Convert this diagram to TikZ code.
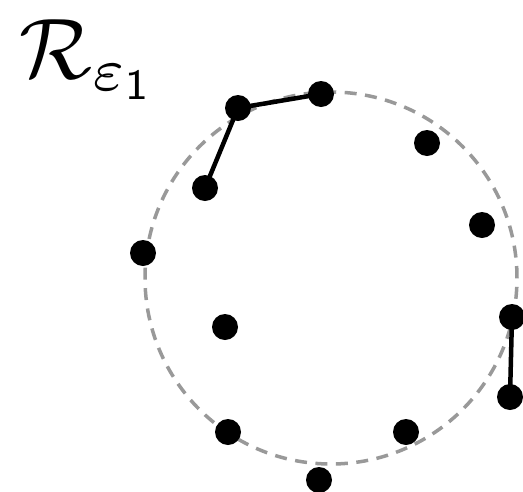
\documentclass[tikz,border=0pt]{standalone}
\begin{document}
\begin{tikzpicture}[x=1pt,y=-1pt,
  dot/.style={circle,fill=black,inner sep=0pt,minimum size=26pt},
  link/.style={draw=black,line width=4.5pt},
  ring/.style={draw=gray!80,line width=3.5pt,dash pattern=on 12pt off 8.5pt}]
\useasboundingbox[fill=white] (0,0) rectangle (523,491);
\node[ring,circle,minimum size=372pt,inner sep=0pt] (c) at (331,278) {};
\node[dot] (a) at (238,108) {};
\node[dot] (b) at (321,94) {};
\node[dot] (d) at (205,188) {};
\node[dot] (e) at (427,143) {};
\node[dot] (f) at (482,225) {};
\node[dot] (g) at (143,253) {};
\node[dot] (h) at (225,327) {};
\node[dot] (i) at (512,317) {};
\node[dot] (j) at (510,397) {};
\node[dot] (k) at (228,432) {};
\node[dot] (l) at (406,432) {};
\node[dot] (m) at (319,480) {};
\draw[link] (a.center) -- (b.center);
\draw[link] (a.center) -- (d.center);
\draw[link] (i.center) -- (j.center);
\node[anchor=base west,inner sep=0pt,scale=8.6] (lbl) at (18,78) {$\mathcal{R}_{\varepsilon_{\mathsf{1}}}$};
\end{tikzpicture}
\end{document}
